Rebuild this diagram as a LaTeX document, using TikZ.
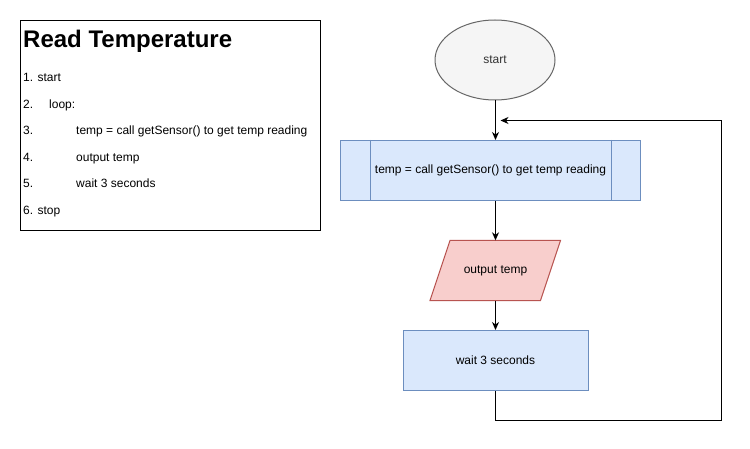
\documentclass[tikz,border=0pt]{standalone}
\usepackage{fontspec}
\setmainfont{Liberation Sans}
\usetikzlibrary{arrows.meta,shapes.geometric}
\definecolor{blfill}{HTML}{DAE8FC}
\definecolor{blline}{HTML}{6C8EBF}
\definecolor{rdfill}{HTML}{F8CECC}
\definecolor{rdline}{HTML}{B85450}
\definecolor{gyfill}{HTML}{F5F5F5}
\definecolor{gyline}{HTML}{666666}
\definecolor{gytext}{HTML}{333333}
\begin{document}
\begin{tikzpicture}[x=1pt,y=-1pt,
  font=\fontsize{12}{14}\selectfont,
  flow/.style={draw=black,line width=1pt,-{Stealth[length=8pt,width=7pt,inset=2.5pt]}},
  listtxt/.style={anchor=base west,inner sep=0pt,text=black},
  bluebox/.style={rectangle,draw=blline,fill=blfill,line width=1pt,inner sep=0pt,text=black},
  linkbox/.style={rectangle,draw=none,inner sep=0pt}]
\useasboundingbox (0,0) rectangle (750,449);
\fill[white] (0,0) rectangle (750,449);

% pseudocode panel
\node[rectangle,draw=black,line width=1pt,fill=white,minimum width=300pt,minimum height=210pt,inner sep=0pt] (panel) at (170.5,125.5) {};
\node[listtxt,font=\fontsize{24}{28}\selectfont\bfseries] (title) at (23,47.5) {Read Temperature};
\node[listtxt] (l1) at (23,81.3) {1. start};
\node[listtxt] (l2n) at (23,108.3) {2.};
\node[listtxt] (l2) at (49,108.3) {loop:};
\node[listtxt] (l3n) at (23,135) {3.};
\node[listtxt] (l3) at (76,135) {temp = call getSensor() to get temp reading};
\node[listtxt] (l4n) at (23,161.3) {4.};
\node[listtxt] (l4) at (76,161.3) {output temp};
\node[listtxt] (l5n) at (23,188) {5.};
\node[listtxt] (l5) at (76,188) {wait 3 seconds};
\node[listtxt] (l6) at (23,214.5) {6. stop};

% flowchart
\node[ellipse,draw=gyline,fill=gyfill,line width=1pt,minimum width=120pt,minimum height=80pt,inner sep=0pt,text=gytext] (start) at (495,60) {start};

\node[bluebox,minimum width=300pt,minimum height=60pt] (proc) at (490.5,170.5) {temp = call getSensor() to get temp reading};
\draw[blline,line width=1pt] ([xshift=30pt]proc.north west) -- ([xshift=30pt]proc.south west);
\draw[blline,line width=1pt] ([xshift=-30pt]proc.north east) -- ([xshift=-30pt]proc.south east);

\draw[rdline,fill=rdfill,line width=1pt] (450,240.5) -- (560.5,240.5) -- (540.5,300.5) -- (430,300.5) -- cycle;
\node[linkbox,minimum width=110pt,minimum height=60pt,text=black] (outp) at (495.5,270.5) {output temp};

\node[bluebox,minimum width=185pt,minimum height=60pt] (wait) at (495.5,360.5) {wait 3 seconds};

\coordinate (c1) at (495.5,420.5);
\coordinate (c2) at (721.5,420.5);
\coordinate (c3) at (721.5,120.5);
\coordinate (lp) at (500.5,120.5);

\draw[flow] (start.south -| outp.north) -- (proc.north -| outp.north);
\draw[flow] (proc.south -| outp.north) -- (outp.north);
\draw[flow] (outp.south) -- (wait.north);
\draw[flow] (wait.south) -- (c1) -- (c2) -- (c3) -- (lp);
\end{tikzpicture}
\end{document}
